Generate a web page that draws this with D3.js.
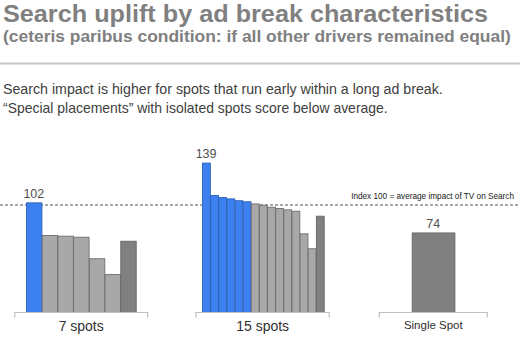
<!DOCTYPE html>
<html>
<head>
<meta charset="utf-8">
<script src="https://cdn.jsdelivr.net/npm/d3@7"></script>
<style>
  html, body { margin: 0; padding: 0; background: #fff; }
  svg { display: block; font-family: "Liberation Sans", Arial, sans-serif; }
</style>
</head>
<body>
<svg id="chart" width="520" height="341"></svg>
<script>
// ---- Data ----
const groups = ["7 spots", "15 spots", "Single Spot"];
const spots7 = [102, 71.6, 71, 70, 50, 35.3, 66.3];
const spots15 = [139, 108.8, 106.9, 105.7, 104, 103, 101, 99.8, 97.9, 96.7, 95.5, 94.2, 73.2, 59.3, 89.6];
const spotsSingle = [74];
// bar type: "early" (blue), "mid" (light gray), "last" (dark gray)
const types7 = ["early", "mid", "mid", "mid", "mid", "mid", "last"];
const types15 = ["early", "early", "early", "early", "early", "early", "mid", "mid", "mid", "mid", "mid", "mid", "mid", "mid", "last"];
const typesSingle = ["last"];
const labeledValues = [102, 139, 74];
const indexValue = 100;
const indexLabel = "Index 100 = average impact of TV on Search";
const title = "Search uplift by ad break characteristics";
const subtitle = "(ceteris paribus condition: if all other drivers remained equal)";
const bodyLines = [
  "Search impact is higher for spots that run early within a long ad break.",
  "\u201CSpecial placements\u201D with isolated spots score below average."
];

// ---- Layout ----
const svg = d3.select("#chart");
const colors = { early: "#3d80f0", mid: "#a8a8a8", last: "#808080" };
const strokes = { early: "#2f62b8", mid: "#6e6e6e", last: "#666666" };

const y = d3.scaleLinear().domain([0, 100]).range([312.5, 205]);

// fit a text's font size so its natural width matches a target width
function fitWidth(sel, target) {
  const node = sel.node();
  const fs = parseFloat(sel.attr("font-size"));
  const w = node.getComputedTextLength();
  if (w > 0) sel.attr("font-size", (fs * target / w).toFixed(2));
  return sel;
}

// Header
svg.append("text").attr("x", 3).attr("y", 22)
  .attr("font-size", 24).attr("font-weight", "bold").attr("fill", "#808080")
  .attr("textLength", 485).attr("lengthAdjust", "spacingAndGlyphs")
  .text(title);
fitWidth(svg.append("text").attr("x", 3).attr("y", 42)
  .attr("font-size", 15.5).attr("font-weight", "bold").attr("fill", "#808080")
  .text(subtitle), 508);
svg.append("line").attr("x1", 0).attr("x2", 520).attr("y1", 63.5).attr("y2", 63.5)
  .attr("stroke", "#c8c8c8").attr("stroke-width", 2);

const bodyLens = [440, 385];
bodyLines.forEach((t, i) => {
  fitWidth(svg.append("text").attr("x", 3).attr("y", 94.3 + i * 18.5)
    .attr("font-size", 13).attr("fill", "#404040")
    .text(t), bodyLens[i]);
});

// Groups
const groupDefs = [
  { name: groups[0], values: spots7, types: types7, range: [26, 136], bracket: [14.7, 147.7], labelSize: 14, labelY: 331 },
  { name: groups[1], values: spots15, types: types15, range: [202, 324], bracket: [196, 329.3], labelSize: 14, labelY: 331 },
  { name: groups[2], values: spotsSingle, types: typesSingle, range: [411.7, 454.7], bracket: [379.3, 487.3], labelSize: 11.5, labelY: 329 }
];

// Dashed index line (drawn before bars so bars cover it)
svg.append("line").attr("x1", 0).attr("x2", 518)
  .attr("y1", y(indexValue)).attr("y2", y(indexValue))
  .attr("stroke", "#505050").attr("stroke-width", 1.2)
  .attr("stroke-dasharray", "3,2");
fitWidth(svg.append("text").attr("x", 514).attr("y", 198.5)
  .attr("text-anchor", "end").attr("font-size", 9).attr("fill", "#202020")
  .attr("font-family", "'Liberation Sans Narrow', 'Liberation Sans', Arial, sans-serif")
  .text(indexLabel), 163);

groupDefs.forEach((g, gi) => {
  const x = d3.scaleBand().domain(d3.range(g.values.length)).range(g.range).padding(0);
  const grp = svg.append("g");
  grp.selectAll("rect").data(g.values).join("rect")
    .attr("x", (d, i) => x(i) + 0.5)
    .attr("width", x.bandwidth() - 0.3)
    .attr("y", d => y(d))
    .attr("height", d => y(0) - y(d))
    .attr("fill", (d, i) => colors[g.types[i]])
    .attr("stroke", (d, i) => strokes[g.types[i]])
    .attr("stroke-width", 0.9);

  // value label on first bar
  grp.append("text")
    .attr("x", x(0) + x.bandwidth() / 2)
    .attr("y", y(g.values[0]) - 5)
    .attr("text-anchor", "middle").attr("font-size", 12.5).attr("fill", "#505050")
    .text(labeledValues[gi]);

  // bracket axis
  const [b0, b1] = g.bracket;
  grp.append("path")
    .attr("d", `M${b0},317.5 V312.5 H${b1} V317.5`)
    .attr("fill", "none").attr("stroke", "#c0c0c0").attr("stroke-width", 1.2);

  grp.append("text")
    .attr("x", (b0 + b1) / 2).attr("y", g.labelY)
    .attr("text-anchor", "middle").attr("font-size", g.labelSize).attr("fill", "#303030")
    .text(g.name);
});
</script>
</body>
</html>
